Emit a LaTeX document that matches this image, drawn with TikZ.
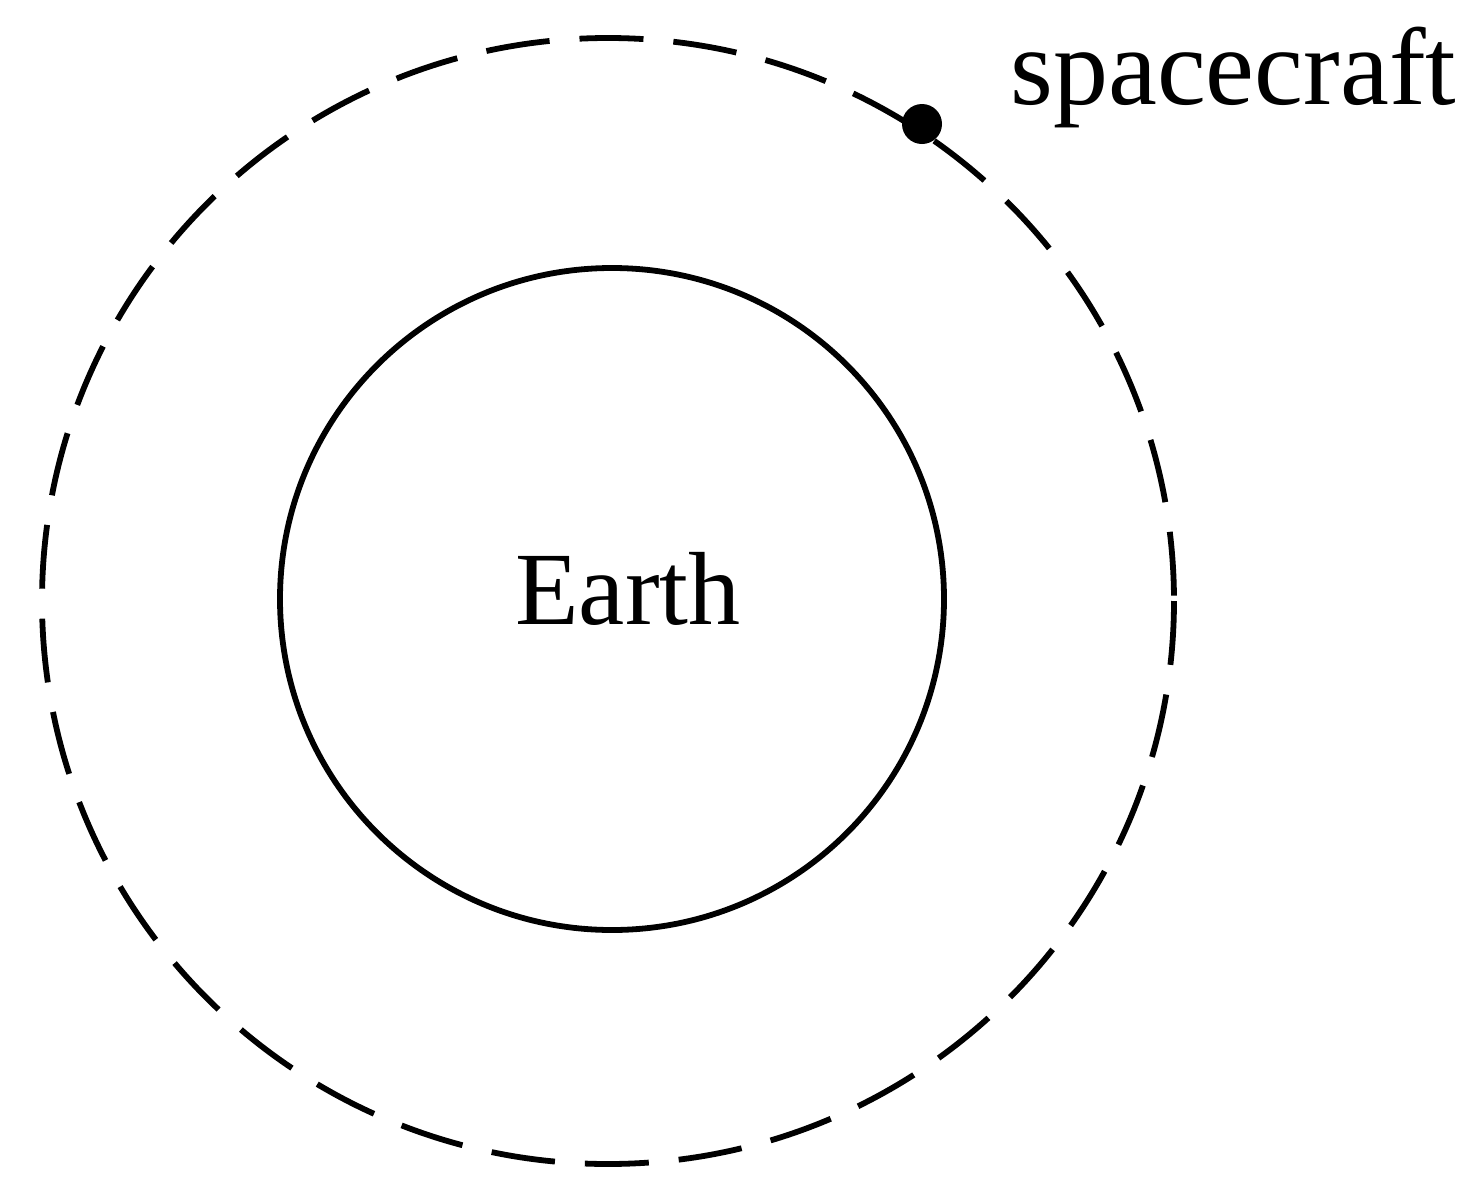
\documentclass[tikz,border=0pt]{standalone}
\usepackage{fontspec}
\setmainfont{Liberation Serif}
\begin{document}
\begin{tikzpicture}[x=0.5pt,y=-0.5pt,
  earthline/.style={line width=2.9pt},
  orbitline/.style={line width=2.9pt, dash pattern=on 32pt off 15pt},
  lbl/.style={font=\fontsize{52}{60}\selectfont, inner sep=0pt}]
\useasboundingbox (0,0) rectangle (1474,1189);
\draw[earthline] (612,599) circle [x radius=332, y radius=331];
\draw[orbitline] (608,601) circle [x radius=566, y radius=563];
\node[circle, fill=black, inner sep=0pt, minimum size=20pt] (sc) at (922,124) {};
\node[lbl, anchor=base] (earth) at (628,624) {Earth};
\node[lbl, font=\fontsize{55}{64}\selectfont, anchor=base west] (sclabel) at (1010,104) {spacecraft};
\end{tikzpicture}
\end{document}
